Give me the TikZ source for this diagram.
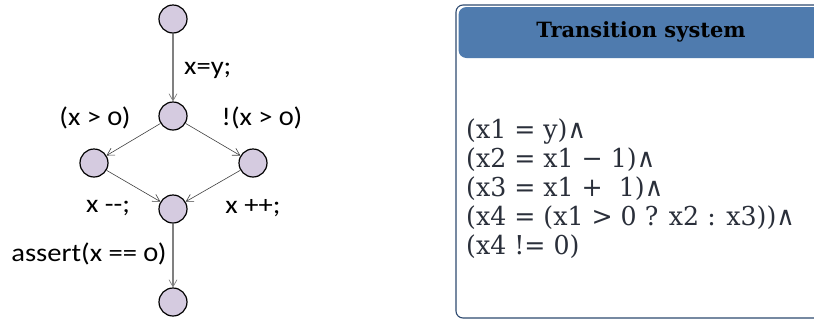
\documentclass[tikz,border=0pt]{standalone}
\usepackage{fontspec}
\usetikzlibrary{arrows.meta}
\newfontfamily\lblfont{Carlito}[Numbers=OldStyle,FakeStretch=1.12]
\newfontfamily\ttlfont{DejaVu Serif}
\newfontfamily\bodyfont{DejaVu Serif}[FakeStretch=0.97]
\definecolor{stfill}{HTML}{D5CBE0}
\definecolor{hdrblue}{HTML}{4F7BAE}
\definecolor{boxedge}{HTML}{2E4A70}
\definecolor{bodytext}{HTML}{2A2F3A}
\begin{document}
\begin{tikzpicture}[x=1pt,y=-1pt,
  st/.style={circle,draw=black,line width=1.2pt,fill=stfill,minimum size=28pt,inner sep=0pt},
  edg/.style={draw=black!75,line width=0.6pt,-{Straight Barb[length=7pt,width=8pt]}},
  vedg/.style={draw=black!50,line width=1.4pt,-{Straight Barb[length=7pt,width=8pt,line width=0.7pt]}},
  lbl/.style={font=\lblfont\fontsize{25.5}{28}\selectfont,inner sep=0pt},
  body/.style={font=\bodyfont\fontsize{26}{29}\selectfont,text=bodytext,inner sep=0pt,anchor=base west,align=left}]
\useasboundingbox (0,0) rectangle (814,322);
\node[st] (s0) at (173,19) {};
\node[st] (s1) at (173,116) {};
\node[st] (sl) at (94,163) {};
\node[st] (sr) at (253,163) {};
\node[st] (s2) at (173,209) {};
\node[st] (s3) at (173,302) {};
\draw[vedg] (s0) -- (s1);
\draw[edg] (s1) -- (sl);
\draw[edg] (s1) -- (sr);
\draw[edg] (sl) -- (s2);
\draw[edg] (sr) -- (s2);
\draw[vedg] (s2) -- (s3);
\node[lbl,anchor=west] (l0) at (184,70) {x=y;};
\node[lbl] (l1) at (95,118) {(x > 0)};
\node[lbl] (l2) at (262,118) {!(x > 0)};
\node[lbl] (l3) at (108,208) {x -{}-;};
\node[lbl] (l4) at (253,208) {x ++;};
\node[lbl] (l5) at (89,254) {assert(x == 0)};
% transition system box
\draw[fill=white,draw=boxedge,line width=1.1pt,rounded corners=7pt] (456,5) rectangle (830,318);
\fill[hdrblue,rounded corners=8pt] (458.5,7) rectangle (830,58);
\node[font=\ttlfont\bfseries\fontsize{21}{24}\selectfont,inner sep=0pt] (ttl) at (641,32) {Transition system};
\node[body] (txt) at (466,254) {(x1 = y)∧\\(x2 = x1 − 1)∧\\(x3 = x1 + \ 1)∧\\(x4 = (x1 > 0 ? x2 : x3))∧\\(x4 != 0)};
\end{tikzpicture}
\end{document}
